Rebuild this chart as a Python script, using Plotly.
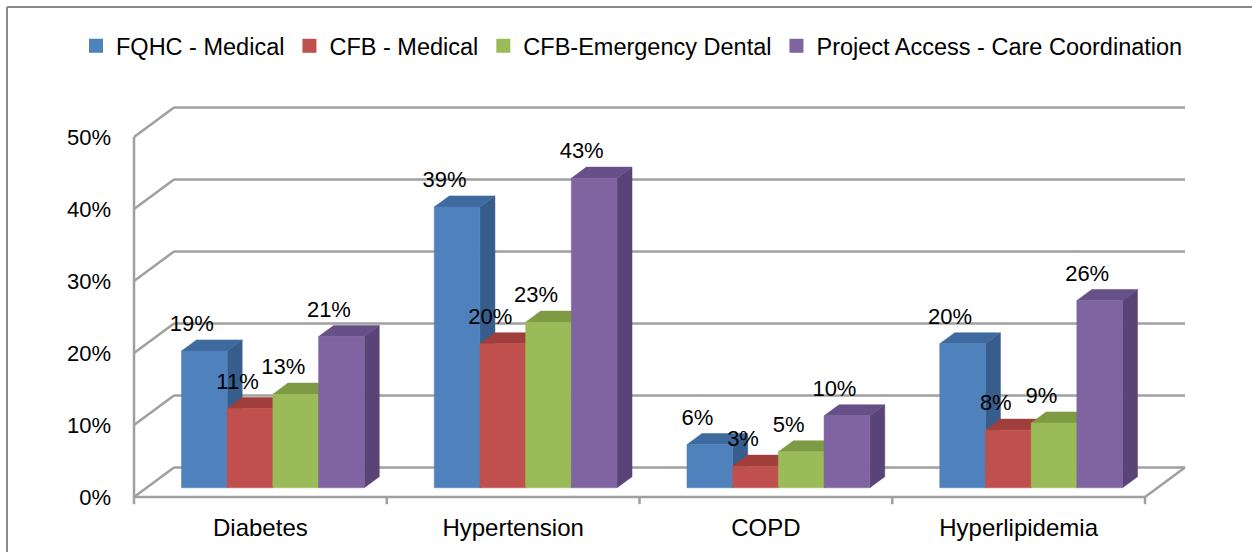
import plotly.graph_objects as go

# ---------------- data ----------------
categories = ["Diabetes", "Hypertension", "COPD", "Hyperlipidemia"]
series_names = ["FQHC - Medical", "CFB - Medical", "CFB-Emergency Dental",
                "Project Access - Care Coordination"]
fqhc_medical = [19, 39, 6, 20]
cfb_medical = [11, 20, 3, 8]
cfb_emergency_dental = [13, 23, 5, 9]
project_access = [21, 43, 10, 26]
y_ticks = [0, 10, 20, 30, 40, 50]
y_tick_labels = ["0%", "10%", "20%", "30%", "40%", "50%"]

series_values = [fqhc_medical, cfb_medical, cfb_emergency_dental, project_access]
front_colors = ["#4F81BD", "#C0504D", "#9BBB59", "#8064A2"]
top_colors = ["#3F6A9F", "#A03E3B", "#7E9B43", "#674F88"]
side_colors = ["#375D8C", "#8F3937", "#718B3C", "#5A4477"]

# ---------------- geometry (pseudo 3D) ----------------
W, H = 1252, 552
L, B = 112, 44
PX_CAT = 252.75   # pixels per category on the front plane
PX_PCT = 7.2      # pixels per percent
FRONT_LEFT_PX = 134
ZERO_PX = 497
DX = 40 / PX_CAT  # depth offset (category units)
DY = 29.5 / PX_PCT  # depth offset (percent units)

plot_w, plot_h = W - L, H - B
x0 = -(FRONT_LEFT_PX - L) / PX_CAT
x1 = x0 + plot_w / PX_CAT
y0 = -(plot_h - ZERO_PX) / PX_PCT
y1 = y0 + plot_h / PX_PCT

n_cat = len(categories)
n_ser = len(series_values)
bw = 0.1808
zf, zb = 0.3125, 0.6875
y_max = y_ticks[-1]


def proj(x, y, z):
    return x + z * DX, y + z * DY


fig = go.Figure()

# gridlines / walls / floor
gx, gy = [], []


def seg(p, q):
    a = proj(*p)
    b = proj(*q)
    gx.extend([a[0], b[0], None])
    gy.extend([a[1], b[1], None])


for v in y_ticks:
    seg((0, v, 0), (0, v, 1))
    seg((0, v, 1), (n_cat, v, 1))
seg((0, 0, 0), (0, y_max, 0))
seg((0, 0, 0), (n_cat, 0, 0))
seg((n_cat, 0, 0), (n_cat, 0, 1))
for k in range(n_cat + 1):
    seg((k, 0, 0), (k, -1.0, 0))

fig.add_trace(go.Scatter(x=gx, y=gy, mode="lines",
                         line=dict(color="#A0A0A0", width=2.5),
                         hoverinfo="skip", showlegend=False))

# bars
label_x, label_y, label_t = [], [], []
for i, vals in enumerate(series_values):
    faces = {"side": ([], []), "top": ([], []), "front": ([], [])}
    for c, v in enumerate(vals):
        xl = c + (1 - n_ser * bw) / 2 + i * bw
        xr = xl + bw
        polys = {
            "front": [(xl, 0, zf), (xr, 0, zf), (xr, v, zf), (xl, v, zf)],
            "top": [(xl, v, zf), (xr, v, zf), (xr, v, zb), (xl, v, zb)],
            "side": [(xr, 0, zf), (xr, 0, zb), (xr, v, zb), (xr, v, zf)],
        }
        for k, pts in polys.items():
            for p in pts + [pts[0]]:
                px, py = proj(*p)
                faces[k][0].append(px)
                faces[k][1].append(py)
            faces[k][0].append(None)
            faces[k][1].append(None)
        lx, ly = proj(xl + bw / 2, v, zb)
        label_x.append(xl + bw / 2)
        label_y.append(ly + 14.5 / PX_PCT)
        label_t.append(f"{v}%")
    for k, col in (("side", side_colors[i]), ("top", top_colors[i]),
                   ("front", front_colors[i])):
        fig.add_trace(go.Scatter(x=faces[k][0], y=faces[k][1], mode="lines",
                                 fill="toself", fillcolor=col,
                                 line=dict(color=col, width=0.5),
                                 hoverinfo="skip", showlegend=False))

fig.add_trace(go.Scatter(x=label_x, y=label_y, mode="text", text=label_t,
                         textposition="middle center",
                         textfont=dict(size=22, color="#000000",
                                       family="Liberation Sans, Arial, sans-serif"),
                         hoverinfo="skip", showlegend=False, cliponaxis=False))

# legend entries
for i, name in enumerate(series_names):
    fig.add_trace(go.Scatter(x=[None], y=[None], mode="markers", name=name,
                             marker=dict(symbol="square", size=14,
                                         color=front_colors[i])))

fig.update_layout(
    width=W, height=H,
    margin=dict(l=L, r=0, t=0, b=B, autoexpand=False),
    paper_bgcolor="white", plot_bgcolor="white",
    font=dict(family="Liberation Sans, Arial, sans-serif", color="#000000"),
    showlegend=True,
    legend=dict(orientation="h", xref="container", yref="container",
                x=76 / W, xanchor="left",
                y=1 - 46 / H, yanchor="middle",
                font=dict(size=23.5), bgcolor="rgba(0,0,0,0)",
                itemwidth=30),
    xaxis=dict(range=[x0, x1], showgrid=False, zeroline=False, showline=False,
               tickmode="array", tickvals=[c + 0.5 for c in range(n_cat)],
               ticktext=categories, ticks="", tickfont=dict(size=24),
               ticklabelstandoff=3, automargin=False, fixedrange=True),
    yaxis=dict(range=[y0, y1], showgrid=False, zeroline=False, showline=False,
               tickmode="array", tickvals=y_ticks, ticktext=y_tick_labels,
               ticks="", tickfont=dict(size=22), automargin=False,
               fixedrange=True),
    shapes=[
        dict(type="line", xref="paper", yref="paper",
             x0=(7 - L) / plot_w, x1=1.0, y0=(plot_h - 7) / plot_h,
             y1=(plot_h - 7) / plot_h, line=dict(color="#8A8A8A", width=2)),
        dict(type="line", xref="paper", yref="paper",
             x0=(7 - L) / plot_w, x1=(7 - L) / plot_w,
             y0=(plot_h - 7) / plot_h, y1=-B / plot_h,
             line=dict(color="#8A8A8A", width=2)),
    ],
)

fig.write_html(
    "out.html",
    config={"displayModeBar": False},
    post_script="document.body.style.margin='0';document.body.style.overflow='hidden';",
)
